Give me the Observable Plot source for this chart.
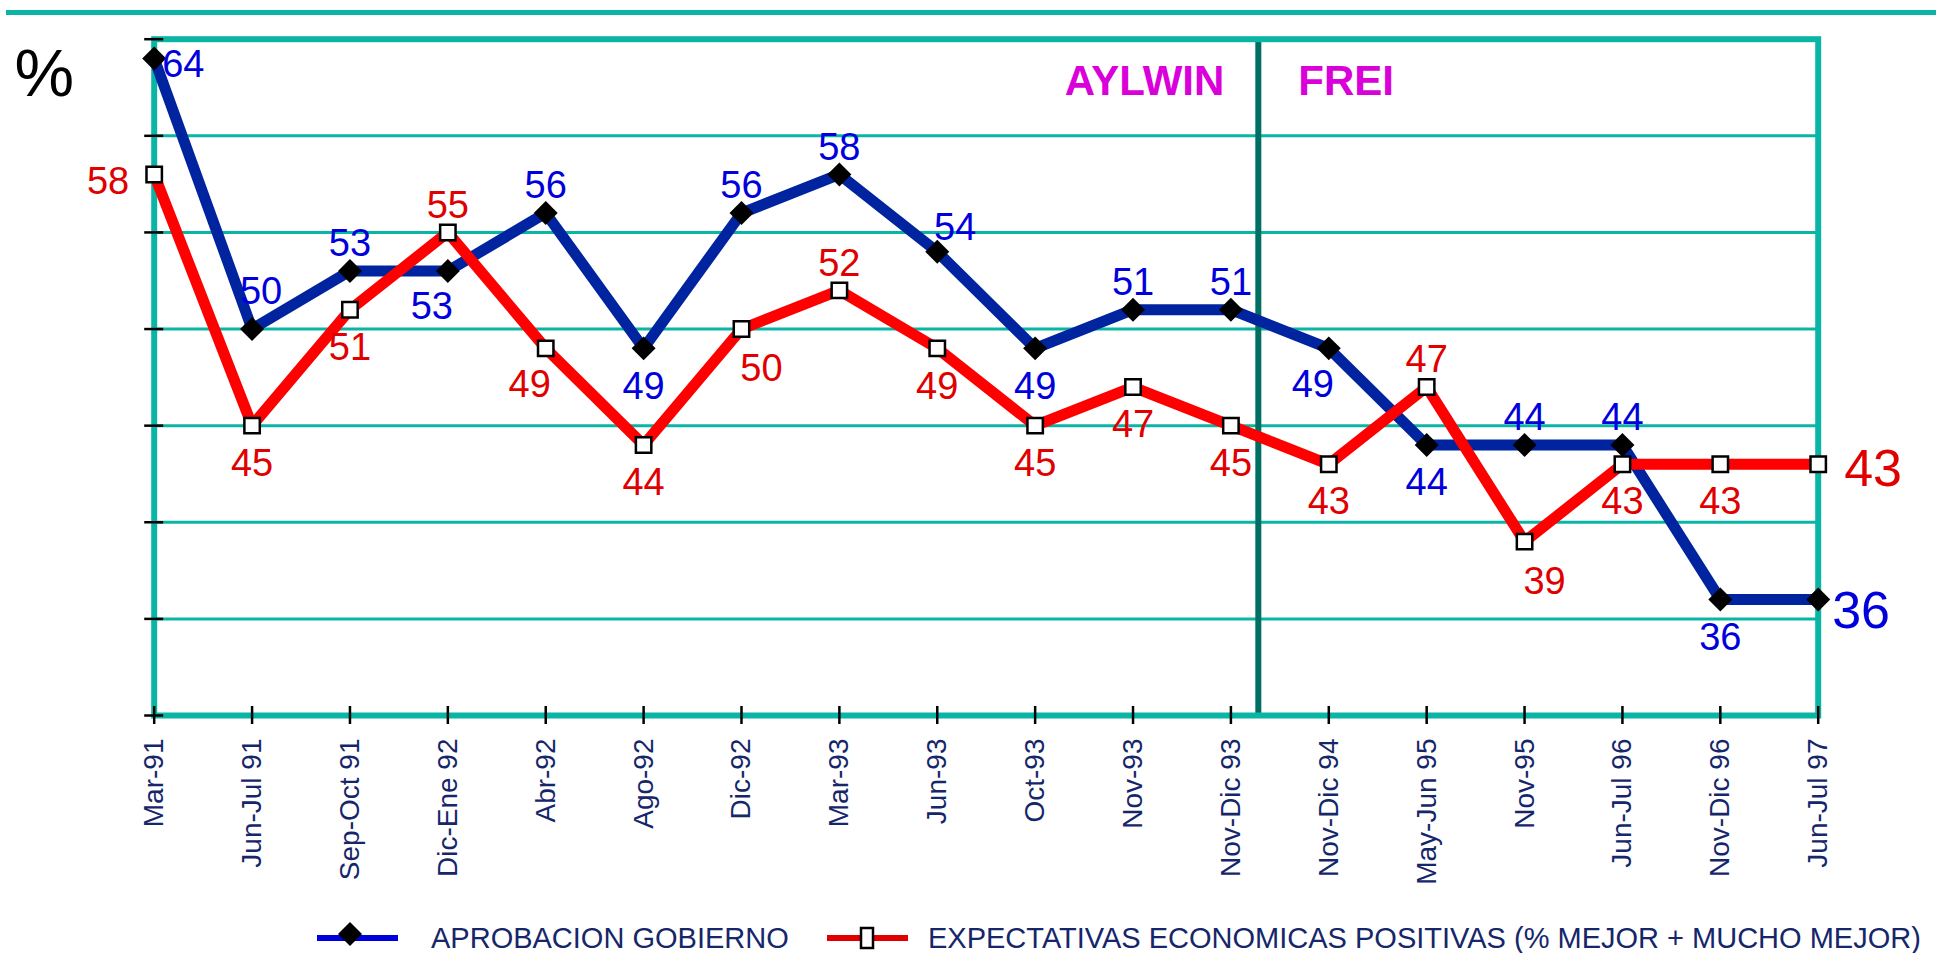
<!DOCTYPE html>
<html>
<head>
<meta charset="utf-8">
<script src="https://cdn.jsdelivr.net/npm/d3@7"></script>
<script src="https://cdn.jsdelivr.net/npm/@observablehq/plot@0.6"></script>
<style>
  html, body { margin: 0; padding: 0; background: #fff; }
  body { font-family: "Liberation Sans", Arial, sans-serif; }
  #wrap { position: relative; width: 1942px; height: 953px; overflow: hidden; }
  #topline { position: absolute; left: 6px; top: 10px; width: 1930px; height: 5px; background: #0bb5a6; }
  #legend { position: absolute; left: 0; top: 910px; width: 1942px; height: 43px; }
</style>
</head>
<body>
<div id="wrap">
  <div id="chart"></div>
  <div id="topline"></div>
  <div id="legend"></div>
</div>
<script>
// ---------- data ----------
const periods = ["Mar-91", "Jun-Jul 91", "Sep-Oct 91", "Dic-Ene 92", "Abr-92", "Ago-92", "Dic-92", "Mar-93",
  "Jun-93", "Oct-93", "Nov-93", "Nov-Dic 93", "Nov-Dic 94", "May-Jun 95", "Nov-95", "Jun-Jul 96", "Nov-Dic 96", "Jun-Jul 97"];
const aprobacion   = [64, 50, 53, 53, 56, 49, 56, 58, 54, 49, 51, 51, 49, 44, 44, 44, 36, 36];
const expectativas = [58, 45, 51, 55, 49, 44, 50, 52, 49, 45, 47, 45, 43, 47, 39, 43, 43, 43];
const yTicks = [30, 35, 40, 45, 50, 55, 60, 65];
const governments = ["AYLWIN", "FREI"];
const governmentChangeAt = 11.28; // between "Nov-Dic 93" and "Nov-Dic 94"
const seriesNames = ["APROBACION GOBIERNO", "EXPECTATIVAS ECONOMICAS POSITIVAS (% MEJOR + MUCHO MEJOR)"];
// label placement (compass codes)
const aprobacionLabelPos   = ["e", "nne", "n", "sw", "n", "s", "n", "n", "ne", "s", "n", "n", "sw", "s", "n", "n", "s", "E"];
const expectativasLabelPos = ["w", "s", "s", "n", "sw", "s", "se", "n", "s", "s", "s", "s", "s", "n", "se", "s", "s", "EE"];

// ---------- styles ----------
const TEAL = "#0bb5a6", DARK_TEAL = "#006f63", NAVY = "#15266a";
const BLUE_LINE = "#0024a0", RED_LINE = "#ff0000";
const BLUE_TEXT = "#0000dd", RED_TEXT = "#e00000", MAGENTA = "#d900d9";
const FONT = "'Liberation Sans', Arial, sans-serif";

const OFFSETS = {
  n:   {dx: 0,   dy: -27},
  s:   {dx: 0,   dy: 38},
  nne: {dx: 9,   dy: -37},
  ne:  {dx: 18,  dy: -24},
  sw:  {dx: -16, dy: 36},
  se:  {dx: 20,  dy: 40},
  e:   {dx: 8,   dy: 6, anchor: "start"},
  w:   {dx: -25, dy: 7, anchor: "end"},
  E:   {dx: 14,  dy: 12, anchor: "start", big: true},
  EE:  {dx: 26,  dy: 5, anchor: "start", big: true}
};

const rows = periods.map((p, i) => ({i, period: p, aprob: aprobacion[i], expect: expectativas[i]}));
const idx = d3.range(periods.length);

function labelMarks(values, codes, color) {
  return Object.entries(OFFSETS).map(([code, o]) =>
    Plot.text(idx.filter(i => codes[i] === code), {
      x: i => i, y: i => values[i], text: i => String(values[i]),
      dx: o.dx, dy: o.dy, textAnchor: o.anchor || "middle", lineAnchor: "middle",
      fontSize: o.big ? 52 : 38, fill: color, fontFamily: FONT
    }));
}

const W = 1942, H = 910;
const fLeft = 153.7, fRight = 1817.7, fTop = 38.7, fBottom = 715;

const chart = Plot.plot({
  width: W, height: H,
  marginLeft: fLeft, marginRight: W - fRight, marginTop: fTop, marginBottom: H - fBottom,
  x: {type: "linear", domain: [0, periods.length - 1]},
  y: {domain: [yTicks[0], yTicks[yTicks.length - 1]]},
  style: {fontFamily: FONT, background: "white", overflow: "visible"},
  marks: [
    Plot.ruleY(yTicks.slice(1, -1), {stroke: TEAL, strokeWidth: 3}),
    Plot.ruleX([governmentChangeAt], {stroke: DARK_TEAL, strokeWidth: 6}),
    Plot.frame({stroke: TEAL, strokeWidth: 6}),
    Plot.axisY({ticks: yTicks, tickSize: 19, dx: 9.5, tickFormat: () => "", label: null,
      stroke: "black", strokeWidth: 2.5}),
    Plot.axisX({ticks: idx, tickSize: 18, dy: -9, tickFormat: () => "", label: null,
      stroke: "black", strokeWidth: 2.5}),
    Plot.axisX({ticks: idx, tickSize: 0, tickPadding: 23, tickRotate: -90, tickFormat: i => periods[i],
      label: null, fontSize: 28, fill: NAVY, fontFamily: FONT}),
    Plot.text(["%"], {frameAnchor: "top-left", lineAnchor: "middle", dx: 14 - fLeft, dy: 35,
      textAnchor: "start", fontSize: 67, fill: "black", fontFamily: FONT}),
    Plot.text([governments[0]], {x: () => governmentChangeAt, frameAnchor: "top", lineAnchor: "middle",
      dy: 42, dx: -34, textAnchor: "end", fontSize: 42, fontWeight: "bold", fill: MAGENTA, fontFamily: FONT}),
    Plot.text([governments[1]], {x: () => governmentChangeAt, frameAnchor: "top", lineAnchor: "middle",
      dy: 42, dx: 40, textAnchor: "start", fontSize: 42, fontWeight: "bold", fill: MAGENTA, fontFamily: FONT}),
    Plot.line(rows, {x: "i", y: "aprob", stroke: BLUE_LINE, strokeWidth: 11, strokeLinejoin: "round"}),
    Plot.dot(rows, {x: "i", y: "aprob", symbol: "diamond2", r: 10.8, fill: "black", stroke: "none"}),
    Plot.line(rows, {x: "i", y: "expect", stroke: RED_LINE, strokeWidth: 11, strokeLinejoin: "round"}),
    Plot.dot(rows, {x: "i", y: "expect", symbol: "square", r: 8.7, fill: "white", stroke: "black", strokeWidth: 2.5}),
    ...labelMarks(aprobacion, aprobacionLabelPos, BLUE_TEXT),
    ...labelMarks(expectativas, expectativasLabelPos, RED_TEXT)
  ]
});
document.getElementById("chart").appendChild(chart);

// ---------- legend ----------
const svg = d3.select("#legend").append("svg").attr("width", W).attr("height", 43);
const legendItems = [
  {name: seriesNames[0], line: "#0000dd", x0: 317, x1: 398, mx: 350, marker: "diamond", tx: 431},
  {name: seriesNames[1], line: "#e00000", x0: 827, x1: 908, mx: 867, marker: "square", tx: 928}
];
for (const it of legendItems) {
  svg.append("line").attr("x1", it.x0).attr("x2", it.x1).attr("y1", 28).attr("y2", 28)
    .attr("stroke", it.line).attr("stroke-width", 6);
  if (it.marker === "diamond") {
    svg.append("path").attr("d", d3.symbol(d3.symbolDiamond2, 367)()).attr("transform", `translate(${it.mx},24)`)
      .attr("fill", "black");
  } else {
    svg.append("rect").attr("x", it.mx - 6).attr("y", 28 - 10).attr("width", 12).attr("height", 20)
      .attr("fill", "white").attr("stroke", "black").attr("stroke-width", 2.5);
  }
  svg.append("text").attr("x", it.tx).attr("y", 38).attr("fill", NAVY).attr("font-size", 29)
    .attr("font-family", FONT).text(it.name);
}
</script>
</body>
</html>
